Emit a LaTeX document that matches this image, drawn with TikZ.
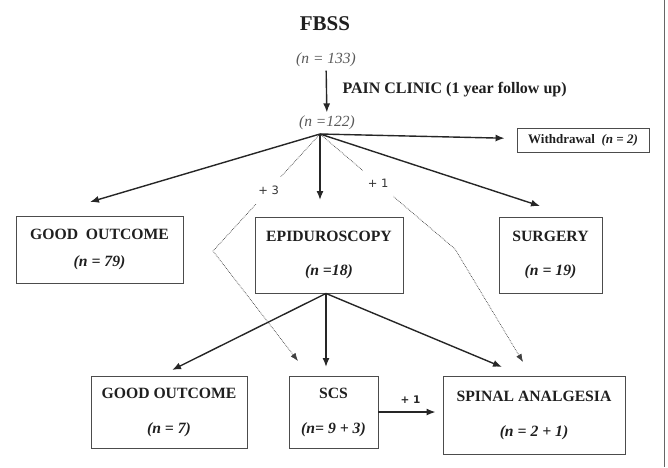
\documentclass[tikz,border=0pt]{standalone}
\usepackage{fontspec}
\setmainfont{Liberation Serif}
\newfontfamily\plusfont{DejaVu Sans}
\usetikzlibrary{arrows.meta, positioning}

\begin{document}
\begin{tikzpicture}[x=1pt, y=-1pt,
    box/.style 2 args={draw=black!70, line width=0.9pt, minimum width=#1, minimum height=#2,
        align=center, text=black!88, font=\fontsize{15.7}{18}\selectfont\bfseries},
    count/.style={text=black!65, font=\fontsize{15.5}{18}\selectfont\itshape},
    arr/.style={-{Latex[length=9pt,width=7pt]}, line width=1.4pt, draw=black!85},
    dotarrow/.style={densely dotted, line width=0.7pt, draw=black!75, -{Latex[length=8pt,width=6pt]}},
    plus/.style={fill=white, inner xsep=5pt, inner ysep=9pt, text=black!80, font=\plusfont\fontsize{11.5}{13}\selectfont}]
    \useasboundingbox (0,0) rectangle (668,467);

    % heading and counts
    \node[text=black!88, font=\fontsize{21}{24}\selectfont\bfseries] (fbss) at (325,24) {FBSS};
    \node[count] (n133) at (326,60) {(n = 133)};
    \node[count] (n122) at (327,123) {(n =122)};
    \node[anchor=west, text=black!88, font=\fontsize{16}{18}\selectfont\bfseries] (clinic) at (339,90) {PAIN CLINIC (1 year follow up)};
    \coordinate (split) at (320,134);

    % first level
    \node[box={132pt}{24pt}, font=\fontsize{13}{15}\selectfont\bfseries] (with) at (583,140) {Withdrawal\ \ \textit{(n = 2)}};
    \node[box={167pt}{67pt}] (good) at (99.5,249.5) {GOOD\ \ OUTCOME\\[9pt]\textit{(n = 79)}};
    \node[box={148pt}{76pt}] (epi) at (329,255) {EPIDUROSCOPY\\[16pt]\textit{(n =18)}};
    \node[box={103pt}{76pt}] (surg) at (550.5,255) {SURGERY\\[16pt]\textit{(n = 19)}};

    % second level
    \node[box={156pt}{72pt}] (good2) at (169,412) {GOOD OUTCOME\\[17pt]\textit{(n = 7)}};
    \node[box={89pt}{72pt}] (scs) at (333.5,412) {SCS\\[17pt]\textit{(n= 9 + 3)}};
    \node[box={182pt}{78pt}] (spinal) at (534,415) {SPINAL ANALGESIA\\[17pt]\textit{(n = 2 + 1)}};

    % arrow tips
    \coordinate (tipgood) at (90,202);
    \coordinate (tipepi) at (320,200);
    \coordinate (tipsurg) at (540,206);
    \coordinate (tipgood2) at (172,370);
    \coordinate (tipscs) at (326,367);
    \coordinate (tipspinal) at (502,367);
    \coordinate (bend3) at (213,251);
    \coordinate (bend1) at (455,249);
    \coordinate (dotscs) at (298,361);
    \coordinate (dotspinal) at (523,362);

    % dotted transfers
    \draw[dotarrow] (split) -- node[plus, pos=0.48] (plus3) {+ 3} (bend3) -- (dotscs);
    \draw[dotarrow] (split) -- node[plus, pos=0.43] (plus1) {+ 1} (bend1) -- (dotspinal);

    % arrows
    \draw[arr] (n133) -- (n122);
    \draw[arr, shorten >=12pt] (split) -- (with);
    \draw[arr] (split) -- (tipgood);
    \draw[arr] (split) -- (tipepi);
    \draw[arr] (split) -- (tipsurg);
    \draw[arr] ([xshift=-3pt]epi.south) -- (tipgood2);
    \draw[arr] ([xshift=-3pt]epi.south) -- (tipscs);
    \draw[arr] ([xshift=-3pt]epi.south) -- (tipspinal);
    \draw[arr, shorten >=7pt] (scs.east) -- node[above=4pt, text=black!85, font=\plusfont\bfseries\fontsize{10.5}{12}\selectfont] (plusb) {+ 1} (scs.east -| spinal.west);

    % frame edge
    \draw[black!60, line width=0.8pt] (664,0) -- (664,467);
\end{tikzpicture}
\end{document}
